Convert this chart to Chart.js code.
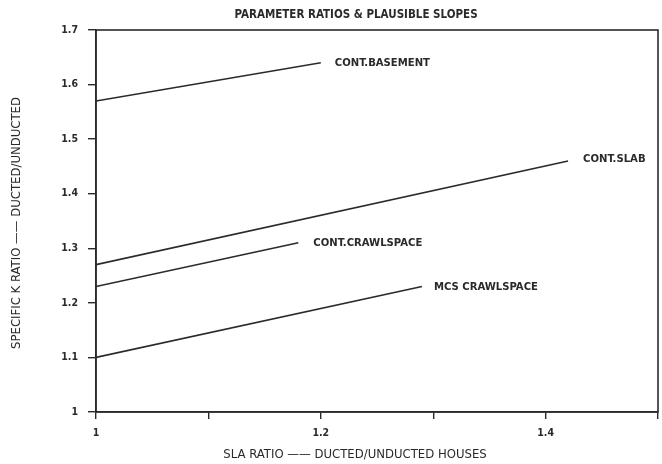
<!DOCTYPE html>
<html>
<head>
<meta charset="utf-8">
<script src="https://cdn.jsdelivr.net/npm/chart.js@4/dist/chart.umd.min.js"></script>
<style>
html,body{margin:0;padding:0;background:#fff;}
#wrap{width:662px;height:464px;position:relative;}
</style>
</head>
<body>
<div id="wrap"><canvas id="c" width="662" height="464"></canvas></div>
<script>
const seriesNames = ['CONT.BASEMENT', 'CONT.SLAB', 'CONT.CRAWLSPACE', 'MCS CRAWLSPACE'];
const basementX = [1.00, 1.20];
const basementY = [1.57, 1.64];
const slabX = [1.00, 1.42];
const slabY = [1.27, 1.46];
const crawlX = [1.00, 1.18];
const crawlY = [1.23, 1.31];
const mcsX = [1.00, 1.29];
const mcsY = [1.10, 1.23];
const xTickValues = [1, 1.1, 1.2, 1.3, 1.4, 1.5];
const xTickLabels = ['1', '', '1.2', '', '1.4', ''];
const yTickValues = [1, 1.1, 1.2, 1.3, 1.4, 1.5, 1.6, 1.7];
const yTickLabels = ['1', '1.1', '1.2', '1.3', '1.4', '1.5', '1.6', '1.7'];
const chartTitle = 'PARAMETER RATIOS & PLAUSIBLE SLOPES';
const xTitle = 'SLA RATIO \u2014\u2014 DUCTED/UNDUCTED HOUSES';
const yTitle = 'SPECIFIC K RATIO \u2014\u2014 DUCTED/UNDUCTED';

const xs = [basementX, slabX, crawlX, mcsX];
const ys = [basementY, slabY, crawlY, mcsY];
const FONT = '"DejaVu Sans Condensed", "DejaVu Sans", sans-serif';
const INK = '#2a2a2a';

const datasets = seriesNames.map((n, i) => ({
  label: n,
  data: xs[i].map((x, j) => ({x: x, y: ys[i][j]})),
  borderColor: INK,
  borderWidth: 1.6,
  pointRadius: 0,
  fill: false,
  tension: 0
}));

const labelOffsets = [[14, 0], [15, -2], [15, 0], [12, 1]];

const deco = {
  id: 'deco',
  afterDraw(chart) {
    const ctx = chart.ctx;
    const a = chart.chartArea;
    const xs_ = chart.scales.x, ys_ = chart.scales.y;
    ctx.save();
    ctx.strokeStyle = INK;
    ctx.lineWidth = 1.6;
    ctx.strokeRect(a.left, a.top, a.right - a.left, a.bottom - a.top);
    ctx.fillStyle = INK;
    ctx.font = 'bold 11.5px ' + FONT;
    ctx.textAlign = 'center';
    ctx.textBaseline = 'middle';
    ctx.fillText(chartTitle, 356, 15);
    ctx.font = '13px ' + FONT;
    ctx.fillText(xTitle, 355, 455);
    ctx.save();
    ctx.translate(17, (a.top + a.bottom) / 2 + 2);
    ctx.rotate(-Math.PI / 2);
    ctx.fillText(yTitle, 0, 0);
    ctx.restore();
    ctx.font = 'bold 11.2px ' + FONT;
    ctx.textAlign = 'left';
    seriesNames.forEach((n, i) => {
      const px = xs_.getPixelForValue(xs[i][xs[i].length - 1]);
      const py = ys_.getPixelForValue(ys[i][ys[i].length - 1]);
      ctx.fillText(n, px + labelOffsets[i][0], py + labelOffsets[i][1]);
    });
    ctx.restore();
  }
};

new Chart(document.getElementById('c'), {
  type: 'line',
  data: { datasets },
  options: {
    responsive: false,
    animation: false,
    layout: { padding: { top: 30, right: 0, left: 0, bottom: 0 } },
    plugins: { legend: { display: false }, tooltip: { enabled: false }, title: { display: false } },
    scales: {
      x: {
        type: 'linear',
        min: 1, max: 1.5,
        afterFit(s) { s.height = 52; s.paddingRight = 4; },
        afterBuildTicks(s) { s.ticks = xTickValues.map(v => ({value: v})); },
        ticks: {
          callback: (v) => { const k = xTickValues.findIndex(t => Math.abs(t - v) < 1e-6); return k >= 0 ? xTickLabels[k] : ''; },
          color: INK, font: { family: FONT, size: 10.5, weight: 'bold' }, padding: 8, maxRotation: 0, autoSkip: false
        },
        grid: { drawOnChartArea: false, drawTicks: true, tickLength: 7, color: INK, lineWidth: 1.4 },
        border: { display: true, color: INK, width: 1.6 }
      },
      y: {
        type: 'linear',
        min: 1, max: 1.7,
        afterFit(s) { s.width = 96; },
        afterBuildTicks(s) { s.ticks = yTickValues.map(v => ({value: v})); },
        ticks: {
          callback: (v) => { const k = yTickValues.findIndex(t => Math.abs(t - v) < 1e-6); return k >= 0 ? yTickLabels[k] : ''; },
          color: INK, font: { family: FONT, size: 10.5, weight: 'bold' }, padding: 10
        },
        grid: { drawOnChartArea: false, drawTicks: true, tickLength: 8, color: INK, lineWidth: 1.4 },
        border: { display: true, color: INK, width: 1.6 }
      }
    }
  },
  plugins: [deco]
});
</script>
</body>
</html>
